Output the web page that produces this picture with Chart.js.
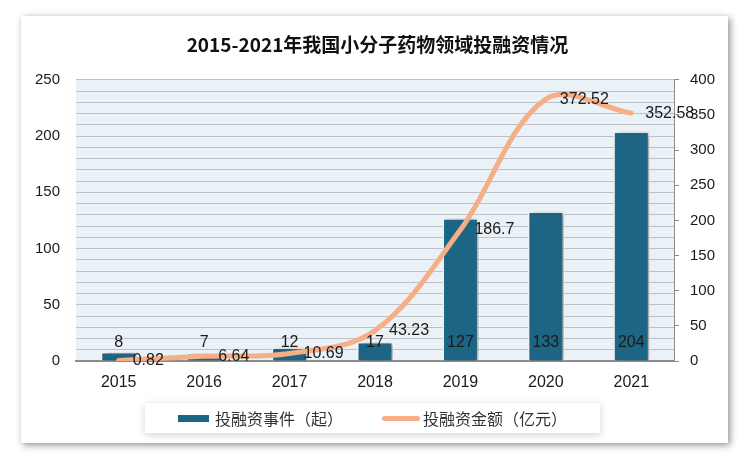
<!DOCTYPE html>
<html>
<head>
<meta charset="utf-8">
<script src="https://cdn.jsdelivr.net/npm/chart.js@4"></script>
<style>
  body { margin: 0; background: #fff; }
  #wrap { position: relative; width: 750px; height: 462px; }
  #box {
    position: absolute; left: 21px; top: 16px; width: 707px; height: 427px;
    background: #fff; box-shadow: 2px 2px 7px rgba(0,0,0,0.45);
  }
  #chart1 { position: absolute; left: 0; top: 0; }
  #legend {
    position: absolute; left: 145px; top: 403px; width: 455px; height: 30px;
    background: #fff; box-shadow: 0 2px 8px rgba(0,0,0,0.18);
    font-family: "Noto Sans CJK SC", sans-serif; font-size: 16px; color: #333;
  }
  #legend span { position: absolute; }
</style>
</head>
<body>
<div id="wrap">
  <div id="box"></div>
  <canvas id="chart1" width="750" height="462"></canvas>
  <div id="legend"></div>
</div>
<script>
const years = ['2015', '2016', '2017', '2018', '2019', '2020', '2021'];
const eventCounts = [8, 7, 12, 17, 127, 133, 204];
const amounts = [0.82, 6.64, 10.69, 43.23, 186.7, 372.52, 352.58];
const seriesNames = ['投融资事件（起）', '投融资金额（亿元）'];
const chartTitle = '2015-2021年我国小分子药物领域投融资情况';

const barColor = '#1d6585';
const lineColor = '#f5ae86';
const numFont = '"Liberation Sans", Arial, sans-serif';

// light blue plot background
const plotBg = {
  id: 'plotBg',
  beforeDraw(chart) {
    const { ctx, chartArea: a } = chart;
    ctx.save();
    ctx.fillStyle = '#eaf1f7';
    ctx.fillRect(a.left, a.top, a.right - a.left, a.bottom - a.top);
    ctx.restore();
  }
};

// soft shadow behind the bars
const barShadow = {
  id: 'barShadow',
  beforeDatasetDraw(chart, args) {
    if (args.index !== 1) return;
    const ctx = chart.ctx;
    ctx.save();
    ctx.shadowColor = 'rgba(0,0,0,0.4)';
    ctx.shadowBlur = 6;
    ctx.shadowOffsetX = 3;
    ctx.shadowOffsetY = 1;
  },
  afterDatasetDraw(chart, args) {
    if (args.index !== 1) return;
    chart.ctx.restore();
  }
};

// value labels: bars at inside base, line to the right of the point
const valueLabels = {
  id: 'valueLabels',
  afterDatasetsDraw(chart) {
    const ctx = chart.ctx;
    const y0 = chart.scales.y.getPixelForValue(0);
    ctx.save();
    ctx.font = '16px ' + numFont;
    ctx.fillStyle = '#1a1a1a';
    ctx.textBaseline = 'middle';

    const barMeta = chart.getDatasetMeta(1);
    ctx.textAlign = 'center';
    barMeta.data.forEach((el, i) => {
      ctx.fillText(String(eventCounts[i]), el.x, y0 - 18);
    });

    const lineMeta = chart.getDatasetMeta(0);
    ctx.textAlign = 'left';
    lineMeta.data.forEach((el, i) => {
      ctx.fillText(String(amounts[i]), el.x + 14, el.y);
    });
    ctx.restore();
  }
};

const chart = new Chart(document.getElementById('chart1'), {
  data: {
    labels: years,
    datasets: [{
      type: 'line',
      label: seriesNames[1],
      data: amounts,
      yAxisID: 'y1',
      borderColor: lineColor,
      backgroundColor: lineColor,
      borderWidth: 5,
      tension: 0.35,
      pointRadius: 0,
      borderCapStyle: 'round'
    }, {
      type: 'bar',
      label: seriesNames[0],
      data: eventCounts,
      yAxisID: 'y',
      backgroundColor: barColor,
      borderColor: '#ffffff',
      borderWidth: 1.5,
      barPercentage: 0.42,
      categoryPercentage: 1
    }]
  },
  options: {
    responsive: false,
    animation: false,
    devicePixelRatio: 1,
    layout: { padding: { left: 35, right: 30, top: 20, bottom: 61 } },
    plugins: {
      legend: { display: false },
      tooltip: { enabled: false },
      title: {
        display: true,
        text: chartTitle,
        color: '#111',
        font: { family: '"Noto Sans CJK SC", sans-serif', size: 19, weight: 'bold' },
        padding: { top: 13, bottom: 24 }
      }
    },
    scales: {
      x: {
        grid: { display: false, drawTicks: false },
        border: { display: true, color: '#8c8c8c', width: 2 },
        ticks: { color: '#1a1a1a', padding: 12, font: { family: numFont, size: 16 } },
        afterFit: (s) => { s.height = 40; }
      },
      y: {
        position: 'left',
        min: 0,
        max: 250,
        grid: { color: '#bcc1c7', drawTicks: false },
        border: { display: false },
        ticks: {
          stepSize: 10,
          autoSkip: false,
          padding: 16,
          color: '#1a1a1a',
          font: { family: numFont, size: 15 },
          callback: (v) => (v % 50 === 0 ? v : '')
        },
        afterFit: (s) => { s.width = 41; }
      },
      y1: {
        position: 'right',
        min: 0,
        max: 400,
        grid: { drawOnChartArea: false, drawTicks: true, tickLength: 5, color: '#8c8c8c' },
        border: { display: true, color: '#8c8c8c', width: 1 },
        ticks: {
          stepSize: 50,
          padding: 11,
          color: '#1a1a1a',
          font: { family: numFont, size: 15 }
        },
        afterFit: (s) => { s.width = 46; }
      }
    }
  },
  plugins: [plotBg, barShadow, valueLabels]
});

// legend kept as html text under the chart
const legend = document.getElementById('legend');
legend.innerHTML =
  '<span style="left:33px;top:12px;width:31px;height:7px;background:' + barColor + '"></span>' +
  '<span style="left:70px;top:3px">' + seriesNames[0] + '</span>' +
  '<span style="left:237px;top:13px;width:38px;height:5px;border-radius:3px;background:' + lineColor + '"></span>' +
  '<span style="left:278px;top:3px">' + seriesNames[1] + '</span>';
</script>
</body>
</html>
